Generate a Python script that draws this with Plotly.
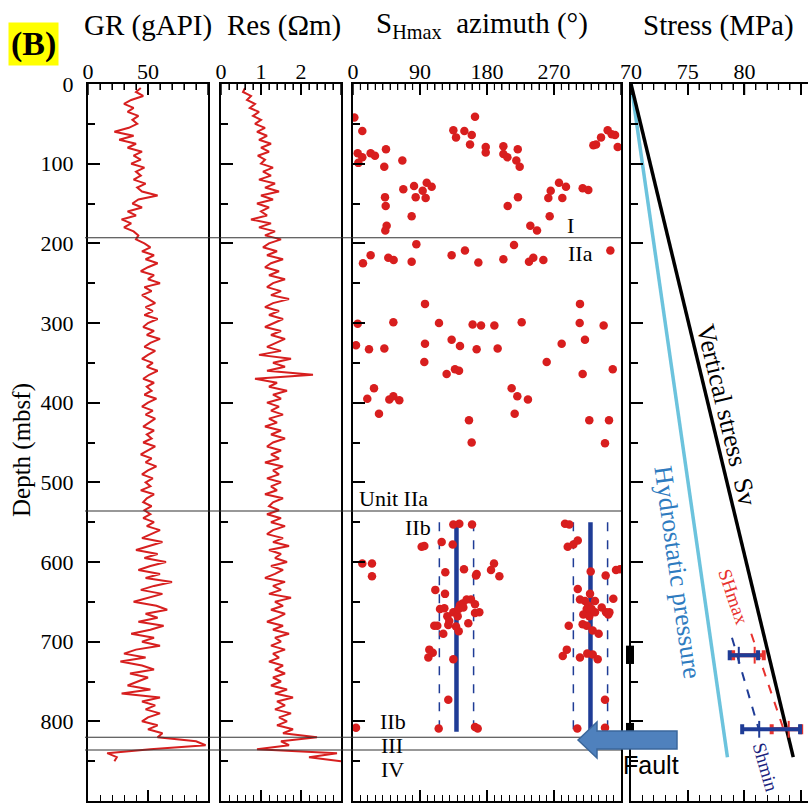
import plotly.graph_objects as go

# ---------------- data ----------------
log_depth = list(range(5, 851, 5))  # sample depths (mbsf)

gr_values = [
    44, 40, 46, 36, 30, 38, 33, 42, 37, 41,
    34, 22, 38, 26, 40, 33, 45, 38, 44, 36,
    47, 40, 44, 38, 48, 41, 45, 58, 42, 37,
    45, 33, 40, 28, 36, 30, 38, 42, 40, 47,
    52, 45, 55, 48, 58, 50, 44, 55, 50, 60,
    47, 53, 45, 51, 56, 48, 54, 47, 58, 50,
    46, 55, 49, 60, 52, 47, 56, 50, 45, 54,
    49, 58, 51, 46, 55, 49, 53, 47, 57, 50,
    45, 54, 48, 56, 51, 46, 55, 49, 53, 46,
    56, 50, 44, 53, 48, 57, 50, 45, 54, 48,
    52, 44, 55, 49, 46, 53, 47, 52, 46, 55,
    49, 60, 52, 45, 62, 50, 40, 58, 47, 65,
    52, 42, 60, 48, 70, 55, 44, 62, 50, 38,
    57, 66, 48, 58, 42, 63, 52, 36, 55, 45,
    60, 40, 30, 48, 27, 45, 55, 35, 50, 42,
    33, 52, 28, 60, 45, 56, 48, 60, 50, 45,
    58, 50, 62, 58, 90, 98, 52, 16, 24, 22,
]

res_values = [
    0.60, 0.55, 0.75, 0.65, 0.85, 0.72, 0.95, 0.80, 1.00, 0.85,
    1.10, 0.90, 1.15, 0.95, 1.25, 1.00, 1.20, 0.92, 1.10, 1.00,
    1.30, 1.05, 1.25, 0.95, 1.35, 1.10, 1.45, 1.00, 1.30, 0.90,
    1.20, 1.00, 1.15, 0.75, 1.25, 0.95, 1.35, 1.10, 1.50, 1.20,
    1.05, 1.40, 1.15, 1.55, 1.25, 1.10, 1.45, 1.20, 1.60, 1.30,
    1.15, 1.50, 1.25, 1.70, 1.30, 1.10, 1.45, 1.20, 1.55, 1.30,
    1.10, 1.50, 1.25, 1.60, 1.35, 1.15, 1.50, 0.95, 1.75, 1.30,
    1.60, 1.15, 2.30, 0.85, 1.40, 1.20, 1.65, 1.30, 1.50, 1.15,
    1.45, 1.25, 1.55, 1.20, 1.40, 1.10, 1.50, 1.25, 1.60, 1.30,
    1.15, 1.50, 1.25, 1.45, 1.10, 1.55, 1.30, 1.45, 1.15, 1.50,
    1.25, 1.40, 1.10, 1.55, 1.30, 1.20, 1.45, 1.15, 1.50, 1.25,
    1.60, 1.30, 1.15, 1.55, 1.30, 1.70, 1.20, 1.50, 1.35, 1.65,
    1.25, 1.55, 1.35, 1.10, 1.60, 1.30, 1.50, 1.20, 1.75, 1.35,
    1.55, 1.25, 1.60, 1.40, 1.15, 1.55, 1.30, 1.70, 1.35, 1.50,
    1.25, 1.60, 1.30, 1.45, 1.20, 1.55, 1.35, 1.60, 1.30, 1.50,
    1.25, 1.65, 1.35, 1.80, 1.40, 1.60, 1.35, 1.75, 1.45, 1.65,
    1.40, 1.80, 1.55, 2.40, 1.50, 1.70, 0.90, 2.90, 2.20, 3.00,
]

az_values = [
    # Unit I
    1.8, 12.5, 6.3, 12.5, 7.2, 23.7, 29.5, 44.3, 42, 66.3,
    43, 43.9, 45.2, 43.4, 67.6, 82, 84.2, 78.8, 93.6, 99,
    105.7, 97.6, 134.8, 138.4, 149.6, 159.5, 163.9, 157.2, 178.3, 178.3,
    202, 202, 207.4, 221.3, 219.4, 223.9, 207.8, 221.6, 238.2, 247.2,
    264.2, 262.4, 265.6, 276.7, 286.1, 281.2, 308.5, 316.1, 322.9, 326.5,
    333.2, 342.1, 347.5, 352, 355.6,
    # Unit IIa
    13.4, 23.7, 47.4, 54.6, 78.8, 85.1, 132.5, 150.4, 168.4, 202,
    216.3, 236.4, 242.2, 255.7, 345.7,
    96.7, 304.9, 6.3, 54.2, 115.5, 160.7, 172, 189.9, 226.6, 304.5,
    336.7, 4, 21.5, 42.1, 96.7, 132.5, 143.7, 166.1, 194.3, 280.3,
    311.6, 95.8, 260.2, 125.8, 137, 142.4, 308.5, 348.9,
    19.2, 28.2, 34.9, 48.8, 54.2, 62.2, 155.8, 159.4, 213.1, 220.7,
    235, 217.2, 317.4, 343.9, 338.5,
    # Unit IIb
    134.8, 142.8, 159.9, 119.1, 133.9, 92.2, 95.8, 284.8, 290.6, 288.4,
    296, 301.9, 12.5, 25.5, 25.5, 124, 149.1, 166.1, 165.2, 189.4,
    185.4, 196.6, 319.3, 339.4, 353.3, 358.7, 110.6, 123.6, 301.9, 318.4,
    349.7,
    116.9, 122.7, 126.7, 134.8, 140.6, 143.7, 147.3, 152.7, 158.5, 163.9,
    163.9, 169.7, 142, 148.2,
    109.2, 113.2, 128, 129.3, 138.4, 142, 154.9, 121.3, 102.5, 107.1,
    101.2, 134.8, 128, 115.1, 163.9, 167.5, 4,
    304.9, 311.6, 325.1, 316.1, 313.9, 320.6, 309.4, 317.4, 325.1, 334.1,
    339.9, 344.4, 343, 289.8, 308.5, 313.9, 322, 330, 287.2, 281.8,
    304.9, 314.7, 322, 328.7, 338.5, 301.3, 338.5,
]

az_depth = [
    # Unit I
    42, 59, 87, 92, 99, 87, 90, 82, 104, 96,
    142, 153, 178, 184, 132, 128, 142, 166, 134, 124,
    129, 143, 58, 67, 59, 64, 41, 76, 79, 86,
    78, 88, 92, 82, 96, 104, 153, 142, 178, 184,
    166, 143, 134, 124, 129, 143, 131, 133, 77, 76,
    67, 58, 63, 64, 79,
    # Unit IIa
    225, 215, 218, 221, 223, 201, 215, 209, 224, 220,
    202, 223, 218, 221, 209,
    276, 276, 301, 299, 300, 302, 303, 303, 299, 300,
    303, 328, 333, 332, 326, 321, 329, 333, 332, 326,
    321, 349, 349, 364, 358, 360, 364, 358,
    395, 382, 414, 396, 392, 397, 422, 450, 382, 392,
    396, 414, 422, 422, 451,
    # Unit IIb
    553, 552, 553, 575, 578, 581, 580, 552, 553, 581,
    578, 573, 602, 602, 618, 613, 609, 615, 617, 602,
    610, 618, 612, 617, 610, 609, 635, 640, 634, 640,
    646,
    659, 658, 668, 663, 668, 654, 652, 647, 647, 653,
    664, 663, 659, 657,
    680, 680, 679, 674, 681, 687, 677, 690, 710, 714,
    720, 722, 773, 809, 807, 809, 808,
    647, 649, 649, 655, 659, 659, 666, 668, 663, 657,
    663, 663, 666, 680, 678, 680, 686, 690, 710, 718,
    720, 715, 716, 722, 773, 809, 808,
]

# SHmax azimuth means and +/- one standard deviation in Unit IIb
az_mean = [139, 319]
az_sd = 23
az_mean_depth = [550, 813]

# stress profiles
sv_depth = [0, 845]
sv_stress = [70.0, 84.3]
hydro_depth = [0, 845]
hydro_stress = [70.0, 78.5]
shmax_trend_depth = [690, 808]
shmax_trend_stress = [80.6, 83.4]
shmin_trend_depth = [695, 812]
shmin_trend_stress = [78.9, 81.3]
meas_depth = [717, 810]
shmin_val = [79.5, 81.3]
shmin_lo = [78.7, 79.8]
shmin_hi = [81.2, 84.9]
shmax_val = [80.9, 83.9]
shmax_lo = [79.0, 82.4]
shmax_hi = [81.7, 85.0]

unit_boundaries = [193, 536, 820, 836]
depth_ticks = [0, 100, 200, 300, 400, 500, 600, 700, 800, 900]

# ---------------- layout helpers ----------------
W, H = 808, 805
MT, MB = 84, 4
PH = H - MT - MB


def px(x):
    return x / W


def py(y):
    return (H - MB - y) / PH


SERIF = "Liberation Serif"
RED = "#d71f1f"
NAVY = "#1f3c96"

fig = go.Figure()

fig.add_trace(go.Scatter(x=gr_values, y=log_depth, mode="lines",
                         line=dict(color=RED, width=2), xaxis="x", yaxis="y"))
fig.add_trace(go.Scatter(x=res_values, y=log_depth, mode="lines",
                         line=dict(color=RED, width=2), xaxis="x2", yaxis="y2"))

for m in az_mean:
    for off in (-az_sd, az_sd):
        fig.add_trace(go.Scatter(x=[m + off, m + off], y=az_mean_depth, mode="lines",
                                 line=dict(color=NAVY, width=1.5, dash="dash"),
                                 xaxis="x3", yaxis="y3"))
    fig.add_trace(go.Scatter(x=[m, m], y=az_mean_depth, mode="lines",
                             line=dict(color=NAVY, width=4.5), xaxis="x3", yaxis="y3"))

fig.add_trace(go.Scatter(x=az_values, y=az_depth, mode="markers",
                         marker=dict(color="#d81e1e", size=8.5), xaxis="x3", yaxis="y3"))

fig.add_trace(go.Scatter(x=hydro_stress, y=hydro_depth, mode="lines",
                         line=dict(color="#6cc3dd", width=3.5), xaxis="x4", yaxis="y4"))
fig.add_trace(go.Scatter(x=sv_stress, y=sv_depth, mode="lines",
                         line=dict(color="black", width=3.5), xaxis="x4", yaxis="y4"))
fig.add_trace(go.Scatter(x=shmax_trend_stress, y=shmax_trend_depth, mode="lines",
                         line=dict(color="#e8322e", width=2, dash="dash"), xaxis="x4", yaxis="y4"))
fig.add_trace(go.Scatter(x=shmin_trend_stress, y=shmin_trend_depth, mode="lines",
                         line=dict(color=NAVY, width=2, dash="dash"), xaxis="x4", yaxis="y4"))

fig.add_trace(go.Scatter(
    x=shmax_val, y=meas_depth, mode="markers",
    marker=dict(symbol="line-ns", size=12, line=dict(color="#e8322e", width=2)),
    error_x=dict(type="data", symmetric=False,
                 array=[h - v for h, v in zip(shmax_hi, shmax_val)],
                 arrayminus=[v - l for v, l in zip(shmax_val, shmax_lo)],
                 color="#e8322e", thickness=4, width=5),
    xaxis="x4", yaxis="y4"))
fig.add_trace(go.Scatter(
    x=shmin_val, y=meas_depth, mode="markers",
    marker=dict(symbol="line-ns", size=12, line=dict(color=NAVY, width=2)),
    error_x=dict(type="data", symmetric=False,
                 array=[h - v for h, v in zip(shmin_hi, shmin_val)],
                 arrayminus=[v - l for v, l in zip(shmin_val, shmin_lo)],
                 color=NAVY, thickness=4, width=5),
    xaxis="x4", yaxis="y4"))

panels = [
    ("", "5", dict(dom=(88, 208), rng=[0, 100], tv=[0, 50], major=50, minor=10)),
    ("2", "6", dict(dom=(221, 341), rng=[0, 3], tv=[0, 1, 2], major=1, minor=0.2)),
    ("3", "7", dict(dom=(353, 621), rng=[0, 360], tv=[0, 90, 180, 270], major=90, minor=10)),
    ("4", "8", dict(dom=(631, 808), rng=[70, 85.6], tv=[70, 75, 80, 85], major=5, minor=1)),
]

tickfont = dict(family=SERIF, size=22, color="black")
layout = dict(
    width=W, height=H, margin=dict(l=0, r=0, t=MT, b=MB, autoexpand=False),
    paper_bgcolor="white", plot_bgcolor="rgba(0,0,0,0)", showlegend=False,
)
for k, kt, p in panels:
    dom = [px(p["dom"][0]), px(p["dom"][1])]
    layout["xaxis" + k] = dict(
        domain=dom, range=p["rng"], side="bottom",
        anchor="y" + k, showline=True, linecolor="black", linewidth=2, mirror="ticks",
        ticks="inside", ticklen=11, tickwidth=1.5, tickcolor="black",
        tickmode="array", tickvals=p["tv"],
        minor=dict(ticks="inside", ticklen=6, tickwidth=1.2, tickcolor="black",
                   tickmode="linear", tick0=p["rng"][0], dtick=p["minor"], showgrid=False),
        showgrid=False, zeroline=False, showticklabels=False, automargin=False,
    )
    layout["xaxis" + kt] = dict(
        domain=dom, range=p["rng"], side="top", overlaying="x" + k, anchor="y" + k,
        showline=False, ticks="", tickmode="array", tickvals=p["tv"],
        showgrid=False, zeroline=False, tickfont=tickfont, automargin=False,
    )
    layout["yaxis" + k] = dict(
        domain=[0, 1], range=[900, 0], anchor="x" + k, showline=True, linecolor="black",
        linewidth=2, mirror=(k != "4"), ticks="inside", ticklen=12, tickwidth=1.5,
        tickcolor="black", tickmode="array", tickvals=depth_ticks,
        minor=dict(ticks="inside", ticklen=7, tickwidth=1.5, tickcolor="black",
                   tickmode="linear", tick0=0, dtick=50, showgrid=False),
        showgrid=False, zeroline=False, showticklabels=(k == ""), tickfont=tickfont,
        ticklabelstandoff=8, automargin=False,
    )
fig.update_layout(**layout)

for k, kt, p in panels:
    fig.add_trace(go.Scatter(x=p["tv"], y=[None] * len(p["tv"]), mode="markers",
                             xaxis="x" + kt, yaxis="y" + k, hoverinfo="skip",
                             marker=dict(opacity=0)))

shapes = []
# top-edge tick marks (pointing down into each panel), following each axis' tick spacing
for k, kt, p in panels:
    lo, hi = p["rng"]
    n = int(round((hi - lo) / p["minor"]))
    for i in range(n + 1):
        v = lo + i * p["minor"]
        if v > hi + 1e-9:
            break
        ratio = (v - lo) / p["major"]
        is_major = abs(ratio - round(ratio)) < 1e-6
        tl = 11 if is_major else 6
        shapes.append(dict(type="line", xref="x" + k, yref="paper", x0=v, x1=v,
                           y0=1, y1=1 - tl / PH,
                           line=dict(color="black", width=1.5 if is_major else 1.2)))
for d in unit_boundaries:
    shapes.append(dict(type="line", xref="paper", yref="y", x0=px(85), x1=px(621),
                       y0=d, y1=d, line=dict(color="#333333", width=1.2)))
for d0, d1 in [(705, 728), (802, 814)]:
    shapes.append(dict(type="rect", xref="paper", yref="y4", x0=px(626), x1=px(634),
                       y0=d0, y1=d1, fillcolor="black", line=dict(width=0)))
pts = [(578, 740), (597, 722), (597, 731), (677, 731), (677, 749), (597, 749), (597, 758)]
path = "M " + " L ".join(f"{px(x):.5f},{py(y):.5f}" for x, y in pts) + " Z"
shapes.append(dict(type="path", xref="paper", yref="paper", path=path,
                   fillcolor="#4f81bd", line=dict(color="#3b679c", width=1.5)))
fig.update_layout(shapes=shapes)

ann = []


def add_text(text, x, y, size=22, color="black", angle=0, family=SERIF, **kw):
    ann.append(dict(text=text, x=px(x), y=py(y), xref="paper", yref="paper",
                    showarrow=False, font=dict(family=family, size=size, color=color),
                    textangle=angle, xanchor="center", yanchor="middle", **kw))


add_text("<b>(B)</b>", 33, 44, size=34, bgcolor="#ffff00", borderpad=2)
add_text("GR (gAPI)", 148, 25, size=29)
add_text("Res (Ωm)", 284, 25, size=29)
add_text("S<sub>Hmax</sub>  azimuth (°)", 482, 25, size=29)
add_text("Stress (MPa)", 718, 25, size=29)
add_text("Depth (mbsf)", 22, 450, size=25, angle=-90)

add_text("I", 570, 226, size=22)
add_text("IIa", 580, 254, size=22)
add_text("Unit IIa", 393, 498, size=22)
add_text("IIb", 418, 527, size=22)
add_text("IIb", 393, 721, size=22)
add_text("III", 392, 745, size=22)
add_text("IV", 392, 769, size=22)

add_text("Vertical stress  Sv", 727, 415, size=26, angle=76.5)
add_text("Hydrostatic pressure", 678, 572, size=26, color="#2e7bbf", angle=82)
add_text("SHmax", 734, 597, size=19, color="#e8322e", angle=71)
add_text("Shmin", 766, 767, size=19, color="#1a237e", angle=74)
add_text("Fault", 651, 765, size=25, family="Liberation Sans")

fig.update_layout(annotations=ann)

fig.write_html("out.html", config={"displayModeBar": False},
               post_script="document.body.style.margin='0';document.body.style.overflow='hidden';")
